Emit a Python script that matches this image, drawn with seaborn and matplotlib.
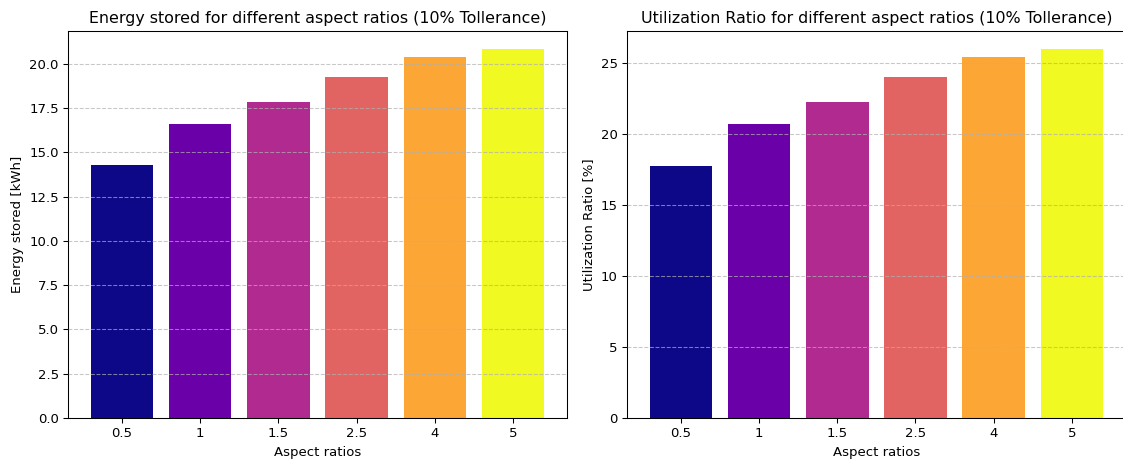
import matplotlib
matplotlib.use("Agg")
import matplotlib.pyplot as plt
import seaborn as sns
import numpy as np
import pandas as pd

aspect_ratios = ["0.5", "1", "1.5", "2.5", "4", "5"]
energy_stored = [14.27, 16.62, 17.86, 19.26, 20.38, 20.81]
utilization = [17.73, 20.69, 22.25, 24.01, 25.45, 25.97]

colors = [matplotlib.colormaps["plasma"](v) for v in np.linspace(0, 1, len(aspect_ratios))]

df = pd.DataFrame({"Aspect": aspect_ratios, "Energy": energy_stored, "Util": utilization})

DPI = 95.2
fig, axes = plt.subplots(1, 2, figsize=(1123 / DPI, 461 / DPI), dpi=DPI)
fig.subplots_adjust(left=0.0606, right=1.0025, top=0.9328, bottom=0.0933, wspace=0.1202)

specs = [
    ("Energy", "Energy stored [kWh]", "Energy stored for different aspect ratios (10% Tollerance)"),
    ("Util", "Utilization Ratio [%]", "Utilization Ratio for different aspect ratios (10% Tollerance)"),
]
for ax, (col, ylab, title) in zip(axes, specs):
    sns.barplot(data=df, x="Aspect", y=col, hue="Aspect", palette=colors, order=aspect_ratios,
                hue_order=aspect_ratios, saturation=1, width=0.8, dodge=False, legend=False,
                errorbar=None, ax=ax)
    ax.set_xlim(-0.69, len(aspect_ratios) - 1 + 0.69)
    ax.set_ylim(0, max(df[col]) * 1.05)
    ax.set_xlabel("Aspect ratios")
    ax.set_ylabel(ylab)
    ax.set_title(title, fontsize=12)
    ax.grid(axis="y", linestyle="--", alpha=0.7)
    ax.set_axisbelow(False)

axes[0].set_yticks(np.arange(0, 20.1, 2.5))
axes[0].yaxis.set_major_formatter(matplotlib.ticker.FormatStrFormatter("%.1f"))

fig.savefig("out.png", dpi=DPI)
